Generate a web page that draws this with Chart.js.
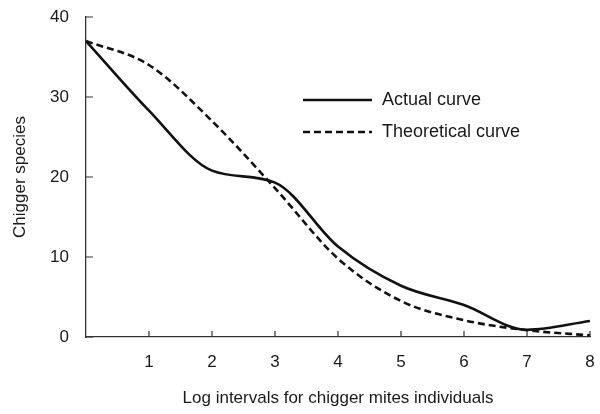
<!DOCTYPE html>
<html>
<head>
<meta charset="utf-8">
<script src="https://cdn.jsdelivr.net/npm/chart.js@4/dist/chart.umd.min.js"></script>
<style>
  html, body { margin: 0; padding: 0; background: #fff; }
  #wrap { width: 600px; height: 414px; }
</style>
</head>
<body>
<div id="wrap"><canvas id="chart_species" width="600" height="414"></canvas></div>
<script>
// data (x = log interval, y = number of chigger species)
const x_values = [0, 1, 2, 3, 4, 5, 6, 7, 8];
const actual_values = [37, 28.3, 20.8, 19.3, 11.3, 6.4, 4.0, 0.9, 2.0];
const theoretical_values = [37, 34.0, 27.0, 18.6, 9.8, 4.5, 2.1, 0.85, 0.2];
const series_names = ['Actual curve', 'Theoretical curve'];
const x_tick_labels = ['', '1', '2', '3', '4', '5', '6', '7', '8'];
const y_tick_labels = ['0', '10', '20', '30', '40'];
const x_title = 'Log intervals for chigger mites individuals';
const y_title = 'Chigger species';

const font_family = '"Liberation Sans", Arial, sans-serif';
const text_color = '#1a1a1a';

function toPoints(values){
  return values.map((v, i) => ({x: x_values[i], y: v}));
}

// inward tick marks + legend inside the plot
const extrasPlugin = {
  id: 'extras',
  afterDraw(chart){
    const ctx = chart.ctx;
    const xs = chart.scales.x;
    const ys = chart.scales.y;
    const area = chart.chartArea;
    ctx.save();
    ctx.strokeStyle = '#333';
    ctx.lineWidth = 1.2;
    ctx.beginPath();
    for (let i=1; i<x_tick_labels.length; i++){
      const px = xs.getPixelForValue(i);
      ctx.moveTo(px, area.bottom);
      ctx.lineTo(px, area.bottom - 6);
    }
    for (let i=0; i<y_tick_labels.length; i++){
      const py = ys.getPixelForValue(i*10);
      ctx.moveTo(area.left, py);
      ctx.lineTo(area.left + 7, py);
    }
    ctx.stroke();

    // legend
    const lx = area.left + 217;
    const rows = [area.top + 83, area.top + 115];
    chart.data.datasets.forEach((ds, i) => {
      ctx.beginPath();
      ctx.setLineDash(ds.borderDash || []);
      ctx.lineWidth = ds.borderWidth;
      ctx.strokeStyle = ds.borderColor;
      ctx.moveTo(lx, rows[i]);
      ctx.lineTo(lx + 69, rows[i]);
      ctx.stroke();
      ctx.setLineDash([]);
      ctx.fillStyle = text_color;
      ctx.font = '18px ' + font_family;
      ctx.textAlign = 'left';
      ctx.textBaseline = 'middle';
      ctx.fillText(series_names[i], lx + 79, rows[i]);
    });
    ctx.restore();
  }
};

const chartdata = {
  datasets: [{
    label: series_names[0],
    data: toPoints(actual_values),
    borderColor: '#111',
    borderWidth: 2.6,
    pointRadius: 0,
    cubicInterpolationMode: 'monotone',
    fill: false
  }, {
    label: series_names[1],
    data: toPoints(theoretical_values),
    borderColor: '#111',
    borderWidth: 2.6,
    borderDash: [7, 4],
    pointRadius: 0,
    cubicInterpolationMode: 'monotone',
    fill: false
  }]
};

const options = {
  responsive: false,
  animation: false,
  layout: { padding: { top: 17, right: 10, left: 0, bottom: 0 } },
  plugins: { legend: { display: false }, tooltip: { enabled: false } },
  scales: {
    x: {
      type: 'linear',
      min: 0, max: 8,
      grid: { display: false, drawTicks: false },
      border: { display: true, color: '#333', width: 1.3 },
      ticks: {
        stepSize: 1,
        padding: 15,
        color: text_color,
        font: { family: font_family, size: 17 },
        callback: (v) => x_tick_labels[v]
      },
      title: {
        display: true,
        text: x_title,
        color: text_color,
        font: { family: font_family, size: 17 },
        padding: { top: 0, bottom: 5 }
      },
      afterFit: (scale) => {
        scale.height = 77;
        scale.paddingLeft = 0;
        scale.paddingRight = 0;
      }
    },
    y: {
      min: 0, max: 40,
      grid: { display: false, drawTicks: false },
      border: { display: true, color: '#333', width: 1.3 },
      ticks: {
        stepSize: 10,
        padding: 17,
        color: text_color,
        font: { family: font_family, size: 17 },
        callback: (v) => y_tick_labels[v/10]
      },
      title: {
        display: true,
        text: y_title,
        color: text_color,
        font: { family: font_family, size: 17 },
        padding: { top: 10, bottom: 0 }
      },
      afterFit: (scale) => {
        scale.width = 86;
        scale.paddingTop = 0;
        scale.paddingBottom = 0;
      }
    }
  }
};

window.speciesChart = new Chart(document.getElementById('chart_species'), {
  type: 'line',
  data: chartdata,
  options: options,
  plugins: [extrasPlugin]
});
</script>
</body>
</html>
